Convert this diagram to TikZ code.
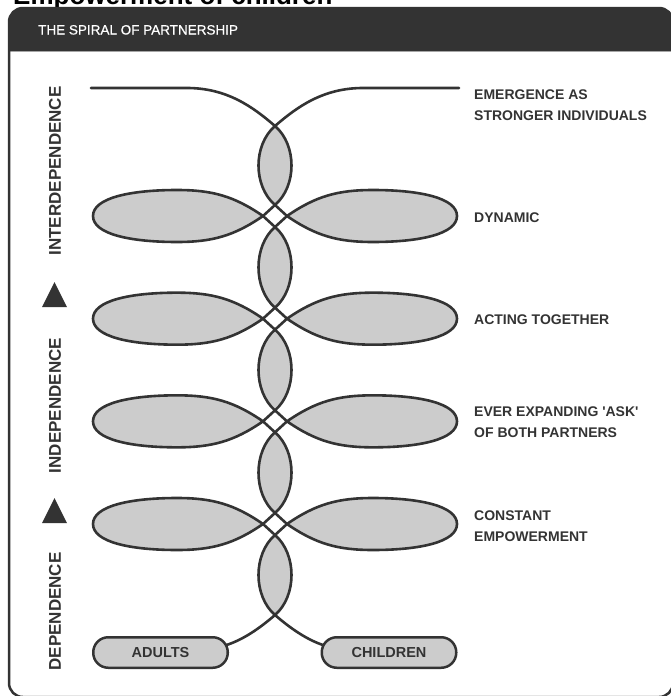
\documentclass[tikz,border=0pt]{standalone}
\usepackage{fontspec}
\setmainfont{Liberation Sans}
\newfontfamily\headfont{Liberation Sans}[FakeBold=0.7]
\usetikzlibrary{calc}
\definecolor{ink}{HTML}{333333}
\definecolor{petal}{HTML}{CCCCCC}
\pgfdeclarelayer{back}
\pgfsetlayers{back,main}
\begin{document}
\begin{tikzpicture}[x=1pt,y=-1pt,
  strand/.style={draw=ink, line width=2.6pt, line cap=round, line join=round},
  rlabel/.style={anchor=base west, inner sep=0pt, text=ink, font=\bfseries\fontsize{14}{16}\selectfont},
  vlabel/.style={rotate=90, inner sep=0pt, text=ink, font=\bfseries\fontsize{17}{19}\selectfont},
  endbox/.style={draw=ink, fill=petal, line width=2.5pt, rounded corners=15pt, minimum width=134.5pt, minimum height=30.5pt, inner sep=0pt, text=ink, font=\bfseries\fontsize{14.5}{16}\selectfont}]
\useasboundingbox (0,0) rectangle (671,696);

% cut-off title above the frame
\node[anchor=base west, inner sep=0pt, font=\bfseries\fontsize{26}{30}\selectfont] (title) at (13,5) {Empowerment of children};

% frame and header
\fill[ink, rounded corners=14pt] (9,8) rectangle (673,40);
\fill[ink] (9,25) rectangle (673,51);
\draw[gray!70, line width=1pt] (10,51.5) -- (672,51.5);
\draw[ink, line width=2.5pt, rounded corners=14pt] (9,8) rectangle (673,697);
\node[anchor=base west, inner sep=0pt, text=white, font=\headfont\fontsize{13.5}{16}\selectfont] (head) at (38,34.5) {THE SPIRAL OF PARTNERSHIP};

% end boxes
\node[endbox] (adults) at (160.5,652.5) {ADULTS};
\node[endbox] (children) at (389,652.5) {CHILDREN};
\coordinate (aend) at ($(adults.east)+(-4,-7)$);
\coordinate (cend) at ($(children.west)+(4,-7)$);

\begin{pgfonlayer}{back}
% fills
\foreach \a/\b in {126/205, 227/307.67, 329.67/410.33, 432.33/513, 535/615} {
  \fill[petal] (275,\a) .. controls (297,\a+19) and (297,\b-19) .. (275,\b) .. controls (253,\b-19) and (253,\a+19) .. (275,\a) -- cycle;
}
\foreach \y in {216,318.67,421.33,524} {
  \fill[petal] (263,\y) .. controls (234,\y+20) and (212,\y+26) .. (177,\y+26) .. controls (130,\y+26) and (93,\y+18) .. (93,\y) .. controls (93,\y-18) and (130,\y-26) .. (177,\y-26) .. controls (212,\y-26) and (234,\y-20) .. (263,\y) -- cycle;
  \fill[petal] (287,\y) .. controls (316,\y+20) and (338,\y+26) .. (373,\y+26) .. controls (420,\y+26) and (457,\y+18) .. (457,\y) .. controls (457,\y-18) and (420,\y-26) .. (373,\y-26) .. controls (338,\y-26) and (316,\y-20) .. (287,\y) -- cycle;
}
% strokes
\foreach \a/\b in {126/205, 227/307.67, 329.67/410.33, 432.33/513, 535/615} {
  \draw[strand] (275,\a) .. controls (297,\a+19) and (297,\b-19) .. (275,\b) .. controls (253,\b-19) and (253,\a+19) .. (275,\a) -- cycle;
}
\foreach \y in {216,318.67,421.33,524} {
  \draw[strand] (263,\y) .. controls (234,\y+20) and (212,\y+26) .. (177,\y+26) .. controls (130,\y+26) and (93,\y+18) .. (93,\y) .. controls (93,\y-18) and (130,\y-26) .. (177,\y-26) .. controls (212,\y-26) and (234,\y-20) .. (263,\y);
  \draw[strand] (287,\y) .. controls (316,\y+20) and (338,\y+26) .. (373,\y+26) .. controls (420,\y+26) and (457,\y+18) .. (457,\y) .. controls (457,\y-18) and (420,\y-26) .. (373,\y-26) .. controls (338,\y-26) and (316,\y-20) .. (287,\y);
  \draw[strand] (275,\y-11) -- (263,\y) -- (275,\y+11) -- (287,\y) -- cycle;
}
\draw[strand] (91,88) -- (187,88) .. controls (227,88) and (253,107) .. (275,126);
\draw[strand] (459,88) -- (363,88) .. controls (323,88) and (297,107) .. (275,126);
\draw[strand] (275,615) .. controls (260,628) and (243,640) .. (aend);
\draw[strand] (275,615) .. controls (290,628) and (307,640) .. (cend);
\end{pgfonlayer}

% right labels
\node[rlabel] (l1a) at (474,99.3) {EMERGENCE AS};
\node[rlabel] (l1b) at (474,120) {STRONGER INDIVIDUALS};
\node[rlabel] (l2) at (474,222) {DYNAMIC};
\node[rlabel] (l3) at (474,324.5) {ACTING TOGETHER};
\node[rlabel] (l4a) at (474,416) {EVER EXPANDING \textquotesingle ASK\textquotesingle};
\node[rlabel] (l4b) at (474,437) {OF BOTH PARTNERS};
\node[rlabel] (l5a) at (474,520) {CONSTANT};
\node[rlabel] (l5b) at (474,541) {EMPOWERMENT};

% vertical labels and arrows
\node[vlabel] (v1) at (55,171) {INTERDEPENDENCE};
\node[vlabel] (v2) at (55,405.5) {INDEPENDENCE};
\node[vlabel] (v3) at (55,611.5) {DEPENDENCE};
\fill[ink] (42,307) -- (67,307) -- (54.5,282) -- cycle;
\fill[ink] (42,523) -- (67,523) -- (54.5,498) -- cycle;
\end{tikzpicture}
\end{document}
